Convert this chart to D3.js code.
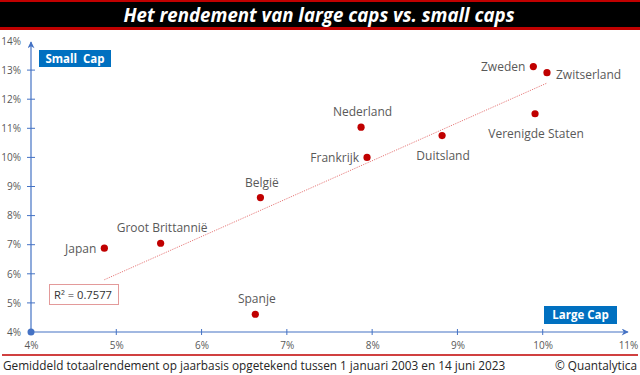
<!DOCTYPE html>
<html>
    <head>
        <meta charset="utf-8">
        <title>Large caps vs small caps</title>
        <script src="https://d3js.org/d3.v7.min.js"></script>
        <style>
            body { margin: 0; background: #fff; }
            text { font-family: "Open Sans", "Noto Sans", sans-serif; }
        </style>
    </head>
    <body>
        <script>
            const width = 640;
            const height = 375;

            // data: large cap return (x) vs small cap return (y), % per year
            const countries = ["Japan", "Groot Brittannië", "België", "Spanje", "Nederland",
                "Frankrijk", "Duitsland", "Zweden", "Zwitserland", "Verenigde Staten"];
            const largeCap = [4.86, 5.52, 6.69, 6.63, 7.87, 7.94, 8.82, 9.89, 10.05, 9.91];
            const smallCap = [6.88, 7.05, 8.62, 4.61, 11.04, 10.00, 10.75, 13.12, 12.91, 11.50];
            const labelSide = ["left", "above", "above", "above", "above",
                "left", "below", "left", "right", "below"];
            const xTicks = [4, 5, 6, 7, 8, 9, 10, 11];
            const yTicks = [4, 5, 6, 7, 8, 9, 10, 11, 12, 13, 14];
            const r2Text = "R² = 0.7577";

            const points = countries.map((c, i) => ({ name: c, x: largeCap[i], y: smallCap[i], side: labelSide[i] }));

            const x = d3.scaleLinear().domain([4, 11]).range([31, 628]);
            const y = d3.scaleLinear().domain([4, 14]).range([332, 41]);

            const svg = d3.select("body").append("svg")
                .attr("width", width)
                .attr("height", height)
            ;

            const blue = "#4472C4";
            const red = "#C00000";
            const grey = "#595959";

            // title band
            svg.append("rect").attr("x", 0).attr("y", 0).attr("width", width).attr("height", 30).attr("fill", red);
            svg.append("rect").attr("x", 0).attr("y", 2).attr("width", width).attr("height", 25).attr("fill", "#000");
            svg.append("text")
                .attr("x", 319).attr("y", 21.5)
                .attr("text-anchor", "middle")
                .attr("fill", "#fff")
                .attr("font-size", 19)
                .attr("font-weight", "bold")
                .attr("font-style", "italic")
                .attr("textLength", 391)
                .attr("lengthAdjust", "spacingAndGlyphs")
                .text("Het rendement van large caps vs. small caps")
            ;

            // arrow marker
            svg.append("defs").append("marker")
                .attr("id", "arrow")
                .attr("viewBox", "0 0 10 10")
                .attr("refX", 9).attr("refY", 5)
                .attr("markerWidth", 9).attr("markerHeight", 7)
                .attr("markerUnits", "userSpaceOnUse")
                .attr("orient", "auto")
                .append("path")
                .attr("d", "M0,0 L10,5 L0,10 L3,5 Z")
                .attr("fill", blue)
            ;

            // axes lines
            svg.append("line")
                .attr("x1", x(4)).attr("y1", y(4)).attr("x2", x(4)).attr("y2", 42)
                .attr("stroke", blue).attr("stroke-width", 1.2)
                .attr("marker-end", "url(#arrow)")
            ;
            svg.append("line")
                .attr("x1", x(4)).attr("y1", y(4)).attr("x2", 628).attr("y2", y(4))
                .attr("stroke", blue).attr("stroke-width", 1.2)
                .attr("marker-end", "url(#arrow)")
            ;

            // tick marks crossing the axes
            svg.append("g").selectAll("line")
                .data(xTicks.slice(1, -1)).join("line")
                .attr("x1", d => x(d)).attr("x2", d => x(d))
                .attr("y1", y(4) - 3).attr("y2", y(4) + 3)
                .attr("stroke", blue)
            ;
            svg.append("g").selectAll("line")
                .data(yTicks.slice(1, -1)).join("line")
                .attr("y1", d => y(d)).attr("y2", d => y(d))
                .attr("x1", x(4) - 4).attr("x2", x(4) + 4)
                .attr("stroke", blue)
            ;

            // tick labels with d3 axes
            const xAxis = svg.append("g")
                .attr("transform", `translate(0,${y(4)})`)
                .call(d3.axisBottom(x).tickValues(xTicks).tickSize(0).tickPadding(10).tickFormat(d => d + "%"));
            const yAxis = svg.append("g")
                .attr("transform", `translate(${x(4)},0)`)
                .call(d3.axisLeft(y).tickValues(yTicks).tickSize(0).tickPadding(10).tickFormat(d => d + "%"));
            [xAxis, yAxis].forEach(a => {
                a.select(".domain").remove();
                a.selectAll("text")
                    .attr("fill", grey)
                    .style("font-family", "\"Open Sans\", sans-serif")
                    .style("font-size", "10px");
            });

            // origin dot
            svg.append("circle").attr("cx", x(4)).attr("cy", y(4)).attr("r", 3.5).attr("fill", blue);

            // trend line (least squares)
            const mx = d3.mean(largeCap), my = d3.mean(smallCap);
            const slope = d3.sum(largeCap, (v, i) => (v - mx) * (smallCap[i] - my)) /
                d3.sum(largeCap, v => (v - mx) * (v - mx));
            const icpt = my - slope * mx;
            const [x0, x1] = d3.extent(largeCap);
            svg.append("line")
                .attr("x1", x(x0)).attr("y1", y(icpt + slope * x0))
                .attr("x2", x(x1)).attr("y2", y(icpt + slope * x1))
                .attr("stroke", "#E77A7A")
                .attr("stroke-width", 1)
                .attr("stroke-dasharray", "1.2,1.2")
            ;

            // points
            svg.append("g").selectAll("circle")
                .data(points).join("circle")
                .attr("cx", d => x(d.x))
                .attr("cy", d => y(d.y))
                .attr("r", 3.6)
                .attr("fill", red)
            ;

            // point labels
            const off = {
                left:  { dx: -8, dy: 4.5, anchor: "end" },
                right: { dx: 9, dy: 6, anchor: "start" },
                above: { dx: 1.5, dy: -11, anchor: "middle" },
                below: { dx: 1, dy: 24, anchor: "middle" },
            };
            svg.append("g").selectAll("text")
                .data(points).join("text")
                .attr("x", d => x(d.x) + off[d.side].dx)
                .attr("y", d => y(d.y) + off[d.side].dy)
                .attr("text-anchor", d => off[d.side].anchor)
                .attr("fill", grey)
                .attr("font-size", 12)
                .text(d => d.name)
            ;

            // R² box
            svg.append("rect")
                .attr("x", 49.5).attr("y", 284.5).attr("width", 69).attr("height", 20)
                .attr("fill", "#fff").attr("stroke", "#E39A9A").attr("stroke-width", 1)
            ;
            svg.append("text")
                .attr("x", 54).attr("y", 299)
                .attr("fill", "#333")
                .attr("font-size", 11.2)
                .text(r2Text)
            ;

            // axis name boxes
            const tags = [
                { t: "Small  Cap", x: 39, y: 50, w: 72, h: 17 },
                { t: "Large Cap", x: 544, y: 306, w: 73, h: 18 },
            ];
            const tg = svg.append("g").selectAll("g").data(tags).join("g");
            tg.append("rect")
                .attr("x", d => d.x).attr("y", d => d.y)
                .attr("width", d => d.w).attr("height", d => d.h)
                .attr("fill", "#0070C0");
            tg.append("text")
                .attr("x", d => d.x + d.w / 2).attr("y", d => d.y + d.h / 2 + 4)
                .attr("text-anchor", "middle")
                .attr("fill", "#fff")
                .attr("font-size", 11.5)
                .attr("font-weight", "bold")
                .style("white-space", "pre")
                .text(d => d.t);

            // footer
            svg.append("line")
                .attr("x1", 2).attr("x2", 638).attr("y1", 355).attr("y2", 355)
                .attr("stroke", red).attr("stroke-width", 1.5)
            ;
            svg.append("text")
                .attr("x", 3).attr("y", 370)
                .attr("fill", "#262626")
                .attr("font-size", 11.8)
                .text("Gemiddeld totaalrendement op jaarbasis opgetekend tussen 1 januari 2003 en 14 juni 2023")
            ;
            svg.append("text")
                .attr("x", 637).attr("y", 370)
                .attr("text-anchor", "end")
                .attr("fill", "#262626")
                .attr("font-size", 11.8)
                .text("© Quantalytica")
            ;
        </script>
    </body>
</html>
